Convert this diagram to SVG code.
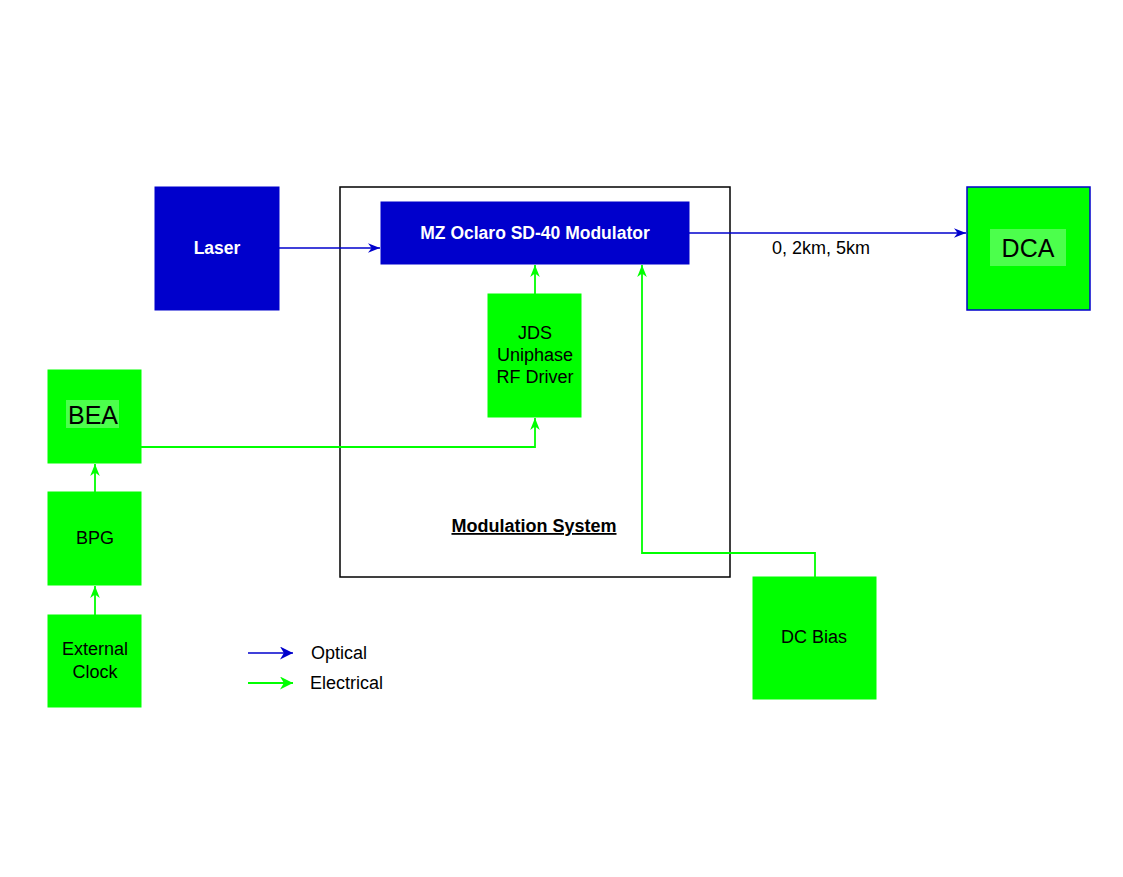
<svg xmlns="http://www.w3.org/2000/svg" width="1123" height="877" viewBox="0 0 1123 877">
<style>
text{font-family:"Liberation Sans",Arial,sans-serif;font-size:18px;text-anchor:middle;fill:#000}
.blue{fill:#0000CC;stroke:#0000CC}
.green{fill:#00FF00;stroke:#00FF00}
.w{fill:#fff;font-weight:bold;font-size:17.5px}
.opt{fill:none;stroke:#0000CC;stroke-width:1.6}
.ele{fill:none;stroke:#00FF00;stroke-width:1.8}
.big{font-size:25px}
</style>
<defs>
<marker id="ao" viewBox="0 0 10 10" refX="10" refY="5" markerWidth="12" markerHeight="12" markerUnits="userSpaceOnUse" orient="auto"><path d="M0,1 L10,5 L0,9 L3,5 Z" fill="#0000CC"/></marker>
<marker id="ae" viewBox="0 0 10 10" refX="10" refY="5" markerWidth="12" markerHeight="12" markerUnits="userSpaceOnUse" orient="auto"><path d="M0,1 L10,5 L0,9 L3,5 Z" fill="#00FF00"/></marker>
<marker id="fo" viewBox="0 0 10 10" refX="10" refY="5" markerWidth="13" markerHeight="13" markerUnits="userSpaceOnUse" orient="auto"><path d="M0,0 L10,5 L0,10 L3,5 Z" fill="#0000CC"/></marker>
<marker id="fe" viewBox="0 0 10 10" refX="10" refY="5" markerWidth="13" markerHeight="13" markerUnits="userSpaceOnUse" orient="auto"><path d="M0,0 L10,5 L0,10 L3,5 Z" fill="#00FF00"/></marker>
</defs>
<rect width="1123" height="877" fill="#fff"/>
<g id="modulation-system">
<rect x="340" y="187" width="390" height="390" fill="none" stroke="#000" stroke-width="1.5"/>
<text x="534" y="532" font-weight="bold" text-decoration="underline">Modulation System</text>
</g>
<g id="laser"><rect class="blue" x="155" y="187" width="124" height="123"/><text class="w" x="217" y="254">Laser</text></g>
<g id="mz-modulator"><rect class="blue" x="381" y="202" width="308" height="62"/><text class="w" x="535" y="239">MZ Oclaro SD-40 Modulator</text></g>
<g id="dca"><rect x="967" y="187" width="123" height="123" fill="#00FF00" stroke="#0000CC" stroke-width="1.5"/><rect x="990" y="229" width="76" height="37" fill="#4CFF4C"/><text class="big" x="1028" y="257">DCA</text></g>
<g id="jds-driver"><rect class="green" x="488" y="294" width="93" height="123"/><text x="535" y="339">JDS</text><text x="535" y="361">Uniphase</text><text x="535" y="383">RF Driver</text></g>
<g id="bea"><rect class="green" x="48" y="370" width="93" height="93"/><rect x="66" y="400" width="53" height="28" fill="#4CFF4C"/><text class="big" x="93" y="424">BEA</text></g>
<g id="bpg"><rect class="green" x="48" y="492" width="93" height="93"/><text x="95" y="544">BPG</text></g>
<g id="external-clock"><rect class="green" x="48" y="615" width="93" height="92"/><text x="95" y="655">External</text><text x="95" y="678">Clock</text></g>
<g id="dc-bias"><rect class="green" x="753" y="577" width="123" height="122"/><text x="814" y="643">DC Bias</text></g>
<g id="connectors">
<path class="opt" d="M279,248 H380" marker-end="url(#ao)"/>
<path class="opt" d="M689,233 H966" marker-end="url(#ao)"/>
<text x="821" y="254">0, 2km, 5km</text>
<path class="ele" d="M535,294 V265" marker-end="url(#ae)"/>
<path class="ele" d="M141,447 H535 V418" marker-end="url(#ae)"/>
<path class="ele" d="M95,492 V464" marker-end="url(#ae)"/>
<path class="ele" d="M95,615 V586" marker-end="url(#ae)"/>
<path class="ele" d="M815,577 V553 H642 V265" marker-end="url(#ae)"/>
</g>
<g id="legend">
<path class="opt" d="M248,653 H293" marker-end="url(#fo)"/>
<text x="311" y="659" style="text-anchor:start">Optical</text>
<path class="ele" d="M248,683 H293" marker-end="url(#fe)"/>
<text x="310" y="689" style="text-anchor:start">Electrical</text>
</g>
</svg>
